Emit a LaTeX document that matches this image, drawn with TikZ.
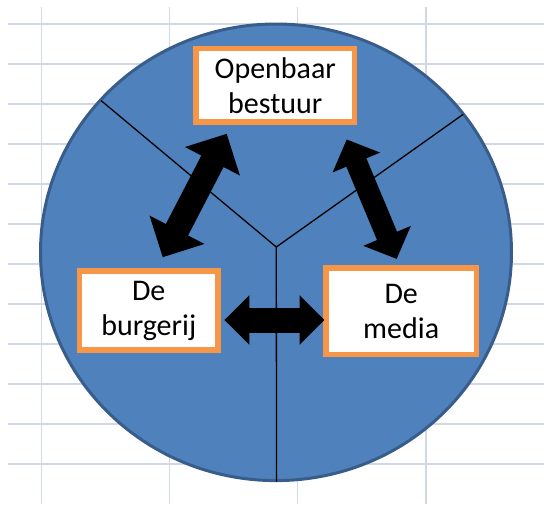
\documentclass[tikz,border=0pt]{standalone}
\usepackage{fontspec}
\setmainfont{Carlito}
\usepackage{xcolor}
\usepackage{tikz}
\usetikzlibrary{arrows.meta}
\definecolor{gridgray}{HTML}{D0D7E5}
\definecolor{pieblue}{HTML}{4F81BD}
\definecolor{pieedge}{HTML}{385D8A}
\definecolor{boxorange}{HTML}{F79646}
\tikzstyle{gridline} = [draw=gridgray, line width=1.3pt]
\tikzstyle{disc} = [fill=pieblue, draw=pieedge, line width=3pt]
\tikzstyle{divider} = [draw=black, line width=1.3pt]
\tikzstyle{party} = [rectangle, draw=boxorange, line width=5.5pt, fill=white, inner sep=0pt, align=center, font=\fontsize{30pt}{35pt}\selectfont]
\tikzset{bigarrow/.style n args={3}{draw=black, line width=#3, arrows={Triangle[width=#1,length=#2]-Triangle[width=#1,length=#2]}}}

\begin{document}
\begin{tikzpicture}[x=1pt, y=-1pt]
\useasboundingbox (0,0) rectangle (544,504);

% spreadsheet background
\foreach \gy in {0,...,11}
  \draw [gridline] (8,24+40*\gy) -- (544,24+40*\gy);
\foreach \gx in {41.5,169.7,297.8,426}
  \draw [gridline] (\gx,6.7) -- (\gx,504);

% the disc and its three parts
\draw [disc] (276,252.3) ellipse [x radius=235.5pt, y radius=228.3pt];
\coordinate (hub) at (276.3,247);
\coordinate (rimleft) at (101,100.5);
\coordinate (rimright) at (463.2,114.3);
\coordinate (rimbottom) at (276.5,481.7);
\draw [divider] (rimleft) -- (hub) -- (rimright);
\draw [divider] (hub) -- (rimbottom);

\node (open) [party, minimum width=158.5pt, minimum height=73.8pt] at (275.3,85.3) {Openbaar\\bestuur};
\node (burg) [party, minimum width=138.5pt, minimum height=78.8pt] at (148.7,310.5) {De\\burgerij};
\node (media) [party, minimum width=150.2pt, minimum height=86.8pt] at (401.2,311.2) {De\\media};

\draw [bigarrow={60pt}{31pt}{25pt}] ([shift={(14,-11.1)}]burg.north) -- ([shift={(-48.6,8.8)}]open.south);
\draw [bigarrow={50pt}{25pt}{21.7pt}] ([shift={(71.4,14.5)}]open.south) -- ([shift={(-4.5,-6.1)}]media.north);
\draw [bigarrow={48pt}{25pt}{25pt}] ([shift={(3.7,9.5)}]burg.east) -- ([shift={(1.2,8.8)}]media.west);

\end{tikzpicture}
\end{document}
